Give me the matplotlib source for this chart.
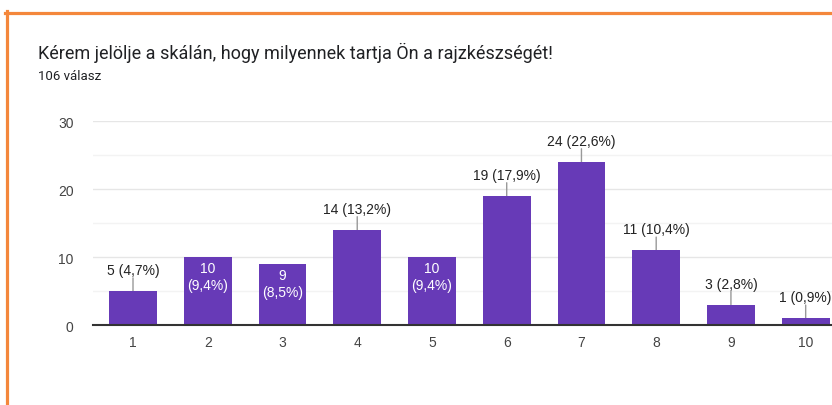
import matplotlib.pyplot as plt
from matplotlib.lines import Line2D

# Datos
categorias = [1, 2, 3, 4, 5, 6, 7, 8, 9, 10]
valores = [5, 10, 9, 14, 10, 19, 24, 11, 3, 1]
porcentajes = ["4,7%", "9,4%", "8,5%", "13,2%", "9,4%", "17,9%", "22,6%", "10,4%", "2,8%", "0,9%"]
dentro = [False, True, True, False, True, False, False, False, False, False]

titulo = "Kérem jelölje a skálán, hogy milyennek tartja Ön a rajzkészségét!"
subtitulo = "106 válasz"

morado = "#673ab7"
chart_font = ["Liberation Sans", "DejaVu Sans"]

fig = plt.figure(figsize=(8.32, 4.06), dpi=100)
ax = fig.add_axes([0.1118, 0.197, 0.888, 0.502])

ax.bar(categorias, valores, width=0.64, color=morado, zorder=3)

# Cuadrícula
for y in [5, 15, 25]:
    ax.axhline(y, color="#f3f3f3", lw=1, zorder=1)
for y in [10, 20, 30]:
    ax.axhline(y, color="#e6e6e6", lw=1, zorder=1)

ax.set_xlim(0.465, 10.35)
ax.set_ylim(0, 30)
ax.set_yticks([0, 10, 20, 30])
ax.set_xticks(categorias)
for s in ["top", "right", "left"]:
    ax.spines[s].set_visible(False)
ax.spines["bottom"].set_color("#333333")
ax.spines["bottom"].set_linewidth(1.5)
ax.spines["bottom"].set_zorder(4)
ax.tick_params(length=0, labelsize=10, colors="#444444", pad=7)
ax.tick_params(axis="y", pad=14)
for lab in ax.get_xticklabels() + ax.get_yticklabels():
    lab.set_family(chart_font)

# Etiquetas de las barras
for x, v, p, d in zip(categorias, valores, porcentajes, dentro):
    if d:
        ax.annotate(f"{v}\n({p})", (x, v), xytext=(0, -3), textcoords="offset points",
                    ha="center", va="top", color="white", fontsize=10,
                    family=chart_font, linespacing=1.25, zorder=5)
    else:
        ax.annotate(f"{v} ({p})", (x, v), xytext=(0, 10), textcoords="offset points",
                    ha="center", va="bottom", color="#222222", fontsize=10,
                    family=chart_font, zorder=5)
        ax.annotate("", (x, v), xytext=(0, 9.5), textcoords="offset points",
                    arrowprops=dict(arrowstyle="-", color="#999999", lw=1,
                                    shrinkA=0, shrinkB=0), zorder=2)

# Títulos
fig.text(38 / 832, 1 - 53 / 406, titulo, fontsize=13, family=["Roboto", "DejaVu Sans"],
         color="#202124", va="center", ha="left")
fig.text(38 / 832, 1 - 77 / 406, subtitulo, fontsize=9.5, family=["Roboto", "DejaVu Sans"],
         color="#202124", va="center", ha="left")

# Borde naranja
naranja = "#f4873b"
fig.add_artist(Line2D([6.5 / 832, 6.5 / 832], [0, 1 - 12 / 406], color=naranja, lw=2.3,
                      transform=fig.transFigure))
fig.add_artist(Line2D([5 / 832, 1], [1 - 13.5 / 406, 1 - 13.5 / 406], color=naranja, lw=2.3,
                      transform=fig.transFigure))

fig.savefig("out.png", dpi=100)
